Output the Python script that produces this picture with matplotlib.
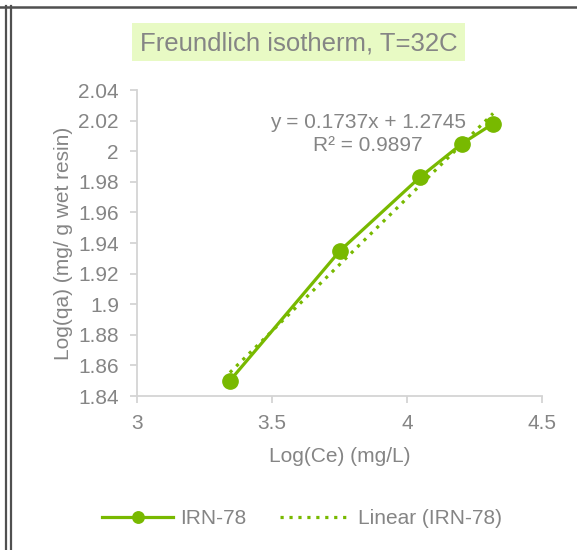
import numpy as np
import matplotlib
matplotlib.use("Agg")
from matplotlib import pyplot as plt
from matplotlib.patches import Rectangle
from matplotlib.lines import Line2D

# data
log_ce = [3.344, 3.752, 4.048, 4.204, 4.319]
log_qa = [1.850, 1.935, 1.983, 2.005, 2.018]
slope = 0.1737
intercept = 1.2745
r2 = 0.9897
xticks = [3, 3.5, 4, 4.5]
yticks = [1.84, 1.86, 1.88, 1.9, 1.92, 1.94, 1.96, 1.98, 2, 2.02, 2.04]
ytick_labels = ['1.84', '1.86', '1.88', '1.9', '1.92', '1.94', '1.96', '1.98', '2', '2.02', '2.04']

green = '#78B900'
grey = '#858585'
axis_grey = '#D4D4D4'
fs = 15

plt.rcParams['font.family'] = ['Liberation Sans', 'DejaVu Sans']

W, H = 577, 550
fig = plt.figure(figsize=(W / 100, H / 100), dpi=100)

def fx(px):
    return px / W

def fy(py):
    return 1 - py / H

ax = fig.add_axes([fx(137), fy(396), fx(542) - fx(137), fy(90) - fy(396)])

# data series and linear trendline
ax.plot(log_ce, log_qa, color=green, lw=2.3, marker='o', ms=11, zorder=3,
        label='IRN-78', clip_on=False)
fit_x = np.array([min(log_ce), max(log_ce)])
ax.plot(fit_x, slope * fit_x + intercept, color=green, lw=2.3,
        linestyle=(0, (1, 1.8)), label='Linear (IRN-78)', zorder=2, clip_on=False)

ax.set_xlim(3, 4.5)
ax.set_ylim(1.84, 2.04)
ax.set_xticks(xticks)
ax.set_xticklabels([str(t) for t in xticks])
ax.set_yticks(yticks)
ax.set_yticklabels(ytick_labels)

for s in ['top', 'right']:
    ax.spines[s].set_visible(False)
for s in ['left', 'bottom']:
    ax.spines[s].set_color(axis_grey)
    ax.spines[s].set_linewidth(1.3)
ax.tick_params(axis='both', colors=axis_grey, labelcolor=grey, labelsize=fs,
               length=5, width=1.3, direction='out')
ax.tick_params(axis='x', pad=8)
ax.tick_params(axis='y', pad=8)

ax.set_xlabel('Log(Ce) (mg/L)', color=grey, fontsize=fs, labelpad=10)
ax.set_ylabel('Log(qa) (mg/ g wet resin)', color=grey, fontsize=fs, labelpad=4)

ax.text(fx(368), fy(123), 'y = 0.1737x + 1.2745', transform=fig.transFigure,
        ha='center', va='center', color=grey, fontsize=fs)
ax.text(fx(368), fy(146), 'R² = %.4f' % r2, transform=fig.transFigure,
        ha='center', va='center', color=grey, fontsize=fs)

# title with green box
fig.patches.append(Rectangle((fx(132), fy(61)), fx(465) - fx(132), fy(23) - fy(61),
                             transform=fig.transFigure, facecolor='#E8FAC4',
                             edgecolor='none', zorder=0))
fig.text(fx(299), fy(43), 'Freundlich isotherm, T=32C', ha='center', va='center',
         color=grey, fontsize=18.5)

fig.legend(loc='center', bbox_to_anchor=(fx(302), fy(519)), ncol=2, frameon=False,
           fontsize=fs, labelcolor=grey, handlelength=3.4, columnspacing=1.6,
           handletextpad=0.35, markerscale=0.75)

# window frame lines
for x in [5.5, 10.5]:
    fig.add_artist(Line2D([fx(x), fx(x)], [0, fy(6)], transform=fig.transFigure,
                          color='#505050', lw=1.6))
fig.add_artist(Line2D([0, 1], [fy(6.5), fy(6.5)], transform=fig.transFigure,
                      color='#505050', lw=1.8))

fig.savefig('out.png', dpi=100)
plt.close()
